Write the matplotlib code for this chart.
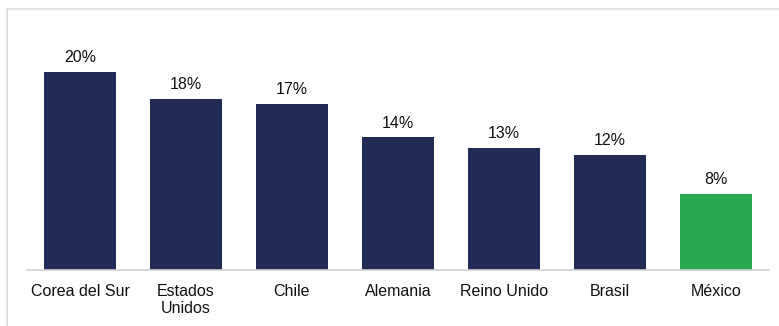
import matplotlib
matplotlib.use("Agg")
import matplotlib.pyplot as plt
from matplotlib.patches import Rectangle

plt.rcParams['font.family'] = ['Liberation Sans', 'DejaVu Sans']

# data
countries = ['Corea del Sur', 'Estados\nUnidos', 'Chile', 'Alemania',
             'Reino Unido', 'Brasil', 'México']
shares = [20.0, 17.4, 16.9, 13.6, 12.6, 11.9, 8.1]
labels = ['20%', '18%', '17%', '14%', '13%', '12%', '8%']

navy = '#222b55'
green = '#2aaa50'
colors = [navy] * 6 + [green]

fig = plt.figure(figsize=(7.79, 3.26), dpi=100)
# light frame around the box
fig.patches.append(Rectangle((7/779, -0.1), 1.2, (326-9)/326 + 0.1,
                             transform=fig.transFigure, fill=False,
                             edgecolor='#dcdcdc', lw=1.2))
ax = fig.add_axes([27/779, 56/326, (769-27)/779, (270-9)/326])

x = range(len(countries))
bars = ax.bar(x, shares, width=0.67, color=colors, bottom=0)
for b, lab in zip(bars, labels):
    ax.annotate(lab, (b.get_x() + b.get_width()/2, b.get_height()),
                xytext=(0, 5), textcoords='offset points',
                ha='center', va='bottom', fontsize=11.5, color='#111111')

ax.set_xlim(-0.5, 6.5)
ax.set_ylim(0.6, 26.2)
ax.set_xticks(list(x))
ax.set_xticklabels(countries, fontsize=11.5, color='#111111', linespacing=1.15)
ax.tick_params(axis='x', length=0, pad=10)
ax.set_yticks([])
for s in ['top', 'right', 'left']:
    ax.spines[s].set_visible(False)
ax.spines['bottom'].set_color('#d0d0d0')
ax.spines['bottom'].set_linewidth(1.2)

fig.savefig('out.png', dpi=100)
